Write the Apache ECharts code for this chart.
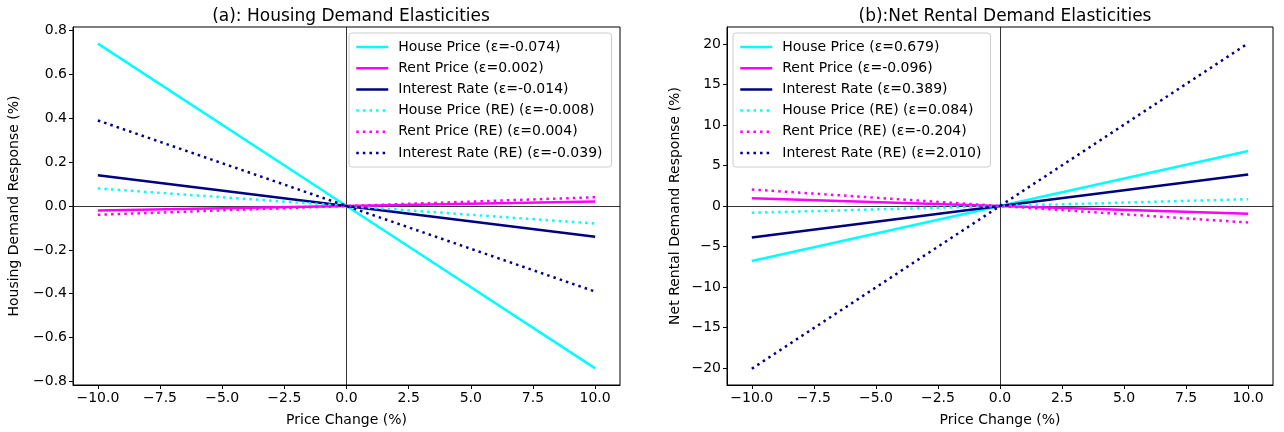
<!DOCTYPE html>
<html>
<head>
<meta charset="utf-8">
<script src="https://cdn.jsdelivr.net/npm/echarts@6/dist/echarts.min.js"></script>
<style>
  html, body { margin: 0; padding: 0; background: #fff; }
  #main { width: 1284px; height: 432px; }
</style>
</head>
<body>
<div id="main"></div>
<script>
// price change (%) at which each line is evaluated
var priceChange = [-10, 0, 10];

// panel (a): housing demand response (%)
var housingNames = [
  'House Price (ε=-0.074)', 'Rent Price (ε=0.002)', 'Interest Rate (ε=-0.014)',
  'House Price (RE) (ε=-0.008)', 'Rent Price (RE) (ε=0.004)', 'Interest Rate (RE) (ε=-0.039)'
];
var housingHouse = [0.74, 0, -0.74];
var housingRent = [-0.02, 0, 0.02];
var housingRate = [0.14, 0, -0.14];
var housingHouseRE = [0.08, 0, -0.08];
var housingRentRE = [-0.04, 0, 0.04];
var housingRateRE = [0.39, 0, -0.39];

// panel (b): net rental demand response (%)
var rentalNames = [
  'House Price (ε=0.679)', 'Rent Price (ε=-0.096)', 'Interest Rate (ε=0.389)',
  'House Price (RE) (ε=0.084)', 'Rent Price (RE) (ε=-0.204)', 'Interest Rate (RE) (ε=2.010)'
];
var rentalHouse = [-6.79, 0, 6.79];
var rentalRent = [0.96, 0, -0.96];
var rentalRate = [-3.89, 0, 3.89];
var rentalHouseRE = [-0.84, 0, 0.84];
var rentalRentRE = [2.04, 0, -2.04];
var rentalRateRE = [-20.1, 0, 20.1];

var xTicks = [-10, -7.5, -5, -2.5, 0, 2.5, 5, 7.5, 10];
var housingTicks = [-0.8, -0.6, -0.4, -0.2, 0, 0.2, 0.4, 0.6, 0.8];
var rentalTicks = [-20, -15, -10, -5, 0, 5, 10, 15, 20];

var colors = ['#00ffff', '#ff00ff', '#000080', '#00ffff', '#ff00ff', '#000080'];
var font = 'DejaVu Sans';

function minus(s) { return String(s).replace('-', '\u2212'); }

function pairs(ys) {
  return ys.map(function (y, i) { return [priceChange[i], y]; });
}

function makeX(idx) {
  return {
    type: 'value', gridIndex: idx, min: -11, max: 11,
    name: 'Price Change (%)', nameLocation: 'middle', nameGap: 28,
    nameTextStyle: { color: '#000', fontSize: 14, fontFamily: font },
    axisLine: { show: true, onZero: false, lineStyle: { color: '#000', width: 1 } },
    axisTick: { show: true, length: 4, customValues: xTicks, lineStyle: { color: '#000' } },
    axisLabel: {
      customValues: xTicks, color: '#000', fontSize: 14, fontFamily: font, margin: 6,
      formatter: function (v) { return minus(v.toFixed(1)); }
    },
    splitLine: { show: false }
  };
}

function makeY(idx, lo, hi, ticks, name, dec) {
  return {
    type: 'value', gridIndex: idx, min: lo, max: hi,
    name: name, nameLocation: 'middle', nameGap: dec ? 52 : 45,
    nameTextStyle: { color: '#000', fontSize: 14, fontFamily: font },
    axisLine: { show: true, onZero: false, lineStyle: { color: '#000', width: 1 } },
    axisTick: { show: true, length: 4, customValues: ticks, lineStyle: { color: '#000' } },
    axisLabel: {
      customValues: ticks, color: '#000', fontSize: 14, fontFamily: font, margin: 6,
      formatter: function (v) { return minus(dec ? v.toFixed(1) : Math.round(v)); }
    },
    splitLine: { show: false }
  };
}

function makeSeries(names, arrays, idx) {
  return arrays.map(function (ys, i) {
    var s = {
      name: names[i], type: 'line', xAxisIndex: idx, yAxisIndex: idx,
      data: pairs(ys), symbol: 'none', showSymbol: false, animation: false,
      lineStyle: { color: colors[i], width: 2.5, type: i < 3 ? 'solid' : [2.5, 4.1] },
      itemStyle: { color: colors[i] },
      z: 3
    };
    if (i === 0) {
      s.markLine = {
        silent: true, symbol: 'none', animation: false,
        label: { show: false },
        lineStyle: { color: '#000', width: 0.8, type: 'solid' },
        data: [{ xAxis: 0 }, { yAxis: 0 }],
        z: 1
      };
    }
    return s;
  });
}

function makeLegend(names, left) {
  return {
    data: names, orient: 'vertical', left: left, top: 33,
    itemWidth: 32, itemHeight: 14, itemGap: 7.2,
    padding: [7, 9, 7, 6],
    backgroundColor: 'rgba(255,255,255,0.8)',
    borderColor: '#cccccc', borderWidth: 1, borderRadius: 3,
    itemStyle: { opacity: 0 },
    lineStyle: { width: 2.5 },
    textStyle: { color: '#000', fontSize: 14, fontFamily: font, padding: [0, 0, 0, 5] }
  };
}

var myChart = echarts.init(document.getElementById('main'), null, { renderer: 'canvas' });

var option = {
  backgroundColor: '#fff',
  animation: false,
  title: [
    { text: '(a): Housing Demand Elasticities', left: 346, top: 3, textAlign: 'center',
      textStyle: { fontSize: 17, fontWeight: 'normal', color: '#000', fontFamily: font } },
    { text: '(b):Net Rental Demand Elasticities', left: 1000, top: 3, textAlign: 'center',
      textStyle: { fontSize: 17, fontWeight: 'normal', color: '#000', fontFamily: font } }
  ],
  legend: [makeLegend(housingNames, 349), makeLegend(rentalNames, 733)],
  grid: [
    { left: 73, right: 664, top: 27, bottom: 45, show: true, borderColor: '#000', borderWidth: 1 },
    { left: 727, right: 11, top: 27, bottom: 45, show: true, borderColor: '#000', borderWidth: 1 }
  ],
  xAxis: [makeX(0), makeX(1)],
  yAxis: [
    makeY(0, -0.816, 0.816, housingTicks, 'Housing Demand Response (%)', true),
    makeY(1, -22.11, 22.11, rentalTicks, 'Net Rental Demand Response (%)', false)
  ],
  series: makeSeries(housingNames,
      [housingHouse, housingRent, housingRate, housingHouseRE, housingRentRE, housingRateRE], 0)
    .concat(makeSeries(rentalNames,
      [rentalHouse, rentalRent, rentalRate, rentalHouseRE, rentalRentRE, rentalRateRE], 1))
};

myChart.setOption(option);
</script>
</body>
</html>
